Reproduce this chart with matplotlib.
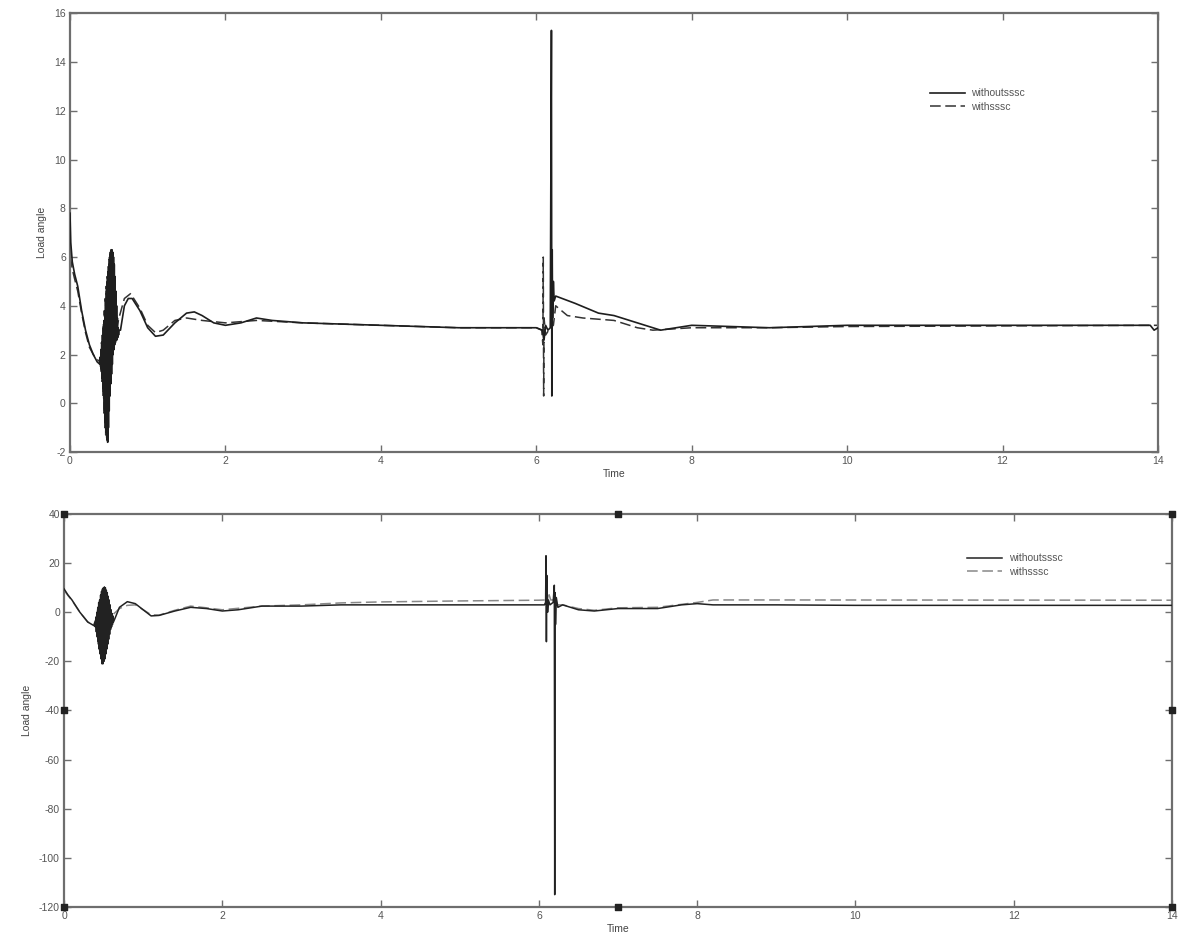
import matplotlib
matplotlib.use("Agg")
import matplotlib.pyplot as plt

# ---------------- data ----------------
# Top panel, "withoutsssc" (solid)
top_t_without = [0.0, 0.01, 0.03, 0.06, 0.10, 0.15, 0.20, 0.25, 0.30, 0.35, 0.385,
                 0.390, 0.395, 0.400, 0.405, 0.410, 0.415, 0.420, 0.425, 0.430, 0.435,
                 0.440, 0.445, 0.450, 0.455, 0.460, 0.465, 0.470, 0.475, 0.480, 0.485,
                 0.490, 0.495, 0.500, 0.505, 0.510, 0.515, 0.520, 0.525, 0.530, 0.535,
                 0.540, 0.545, 0.550, 0.555, 0.560, 0.565, 0.570, 0.575, 0.580, 0.585,
                 0.590, 0.595, 0.600, 0.605, 0.610, 0.615, 0.620, 0.625, 0.630,
                 0.65, 0.70, 0.75, 0.80, 0.90, 1.00, 1.10, 1.20, 1.35, 1.50, 1.60, 1.70,
                 1.85, 2.00, 2.20, 2.40, 2.60, 3.00, 4.00, 5.00, 6.00, 6.08, 6.10, 6.12,
                 6.15, 6.18, 6.195, 6.20, 6.205, 6.21, 6.22, 6.23, 6.25, 6.50, 6.80, 7.00,
                 7.30, 7.60, 8.00, 9.00, 10.00, 12.00, 13.90, 13.95, 14.0]
top_y_without = [7.8, 6.6, 5.8, 5.3, 4.8, 3.8, 3.0, 2.4, 2.0, 1.7, 1.6,
                 1.9, 1.5, 2.2, 1.3, 2.5, 1.0, 2.8, 0.6, 3.1, 0.2,
                 3.4, -0.3, 3.8, -0.8, 4.2, -1.2, 4.6, -1.5, 5.0, -1.6,
                 5.4, -1.0, 5.7, -0.3, 6.0, 0.3, 6.2, 0.8, 6.3, 1.2,
                 6.3, 1.6, 6.2, 2.0, 6.0, 2.2, 5.7, 2.4, 5.2, 2.5,
                 4.6, 2.6, 4.0, 2.6, 3.5, 2.7, 3.1, 2.8, 3.0,
                 3.0, 4.0, 4.3, 4.3, 3.8, 3.1, 2.75, 2.8, 3.3, 3.7, 3.75, 3.6,
                 3.3, 3.2, 3.3, 3.5, 3.4, 3.3, 3.2, 3.1, 3.1, 3.0, 2.6, 3.2,
                 3.0, 3.1, 15.3, 0.3, 6.3, 3.5, 5.0, 4.2, 4.4, 4.1, 3.7, 3.6,
                 3.3, 3.0, 3.2, 3.1, 3.2, 3.2, 3.2, 3.0, 3.1]

# Top panel, "withsssc" (dashed)
top_t_with = [0.0, 0.01, 0.03, 0.06, 0.10, 0.15, 0.20, 0.25, 0.30, 0.35, 0.385,
              0.394, 0.400, 0.406, 0.412, 0.418, 0.424, 0.430, 0.436, 0.442, 0.448,
              0.454, 0.460, 0.466, 0.472, 0.478, 0.484, 0.490, 0.496, 0.502, 0.508,
              0.514, 0.520, 0.526, 0.532, 0.538, 0.544, 0.550, 0.556, 0.562, 0.568,
              0.574, 0.580, 0.586, 0.592, 0.598, 0.604, 0.610,
              0.63, 0.70, 0.78, 0.90, 1.00, 1.10, 1.20, 1.35, 1.50, 1.70, 2.00, 2.40,
              3.00, 4.00, 5.00, 6.00, 6.07, 6.085, 6.09, 6.095, 6.10, 6.12, 6.18,
              6.22, 6.25, 6.40, 6.60, 7.00, 7.30, 7.50, 8.00, 9.00, 10.00, 14.0]
top_y_with = [6.0, 5.9, 5.5, 5.1, 4.6, 3.7, 2.9, 2.3, 2.0, 1.8, 1.7,
              1.9, 1.4, 2.5, 0.9, 2.9, 0.3, 3.3, -0.4, 3.8, -1.0,
              4.3, -1.3, 4.8, -1.4, 5.2, -0.9, 5.6, -0.2, 5.9, 0.5,
              6.1, 1.0, 6.2, 1.5, 6.1, 1.9, 5.8, 2.2, 5.3, 2.4,
              4.7, 2.5, 4.1, 2.6, 3.6, 2.8, 3.2,
              3.5, 4.3, 4.5, 3.9, 3.2, 2.9, 3.0, 3.4, 3.5, 3.4, 3.3, 3.4,
              3.3, 3.2, 3.1, 3.1, 3.0, 2.4, 6.0, 0.3, 3.5, 2.8, 3.1,
              3.2, 4.0, 3.6, 3.5, 3.4, 3.1, 3.0, 3.1, 3.1, 3.15, 3.2]

# Bottom panel, "withoutsssc" (solid)
bot_t_without = [0.0, 0.05, 0.10, 0.20, 0.30, 0.38,
                 0.390, 0.396, 0.402, 0.408, 0.414, 0.420, 0.426, 0.432, 0.438, 0.444,
                 0.450, 0.456, 0.462, 0.468, 0.474, 0.480, 0.486, 0.492, 0.498, 0.504,
                 0.510, 0.516, 0.522, 0.528, 0.534, 0.540, 0.546, 0.552, 0.558, 0.564,
                 0.570, 0.576, 0.582, 0.588, 0.594, 0.600, 0.606, 0.612, 0.618, 0.624,
                 0.65, 0.70, 0.80, 0.90, 1.00, 1.10, 1.20, 1.40, 1.60, 1.80, 2.00, 2.20,
                 2.50, 3.00, 3.50, 4.00, 5.00, 6.00, 6.07, 6.085, 6.09, 6.095, 6.10,
                 6.11, 6.12, 6.14, 6.18, 6.195, 6.20, 6.205, 6.21, 6.22, 6.24, 6.30,
                 6.50, 6.70, 7.00, 7.50, 7.80, 8.00, 8.20, 9.00, 10.00, 14.0]
bot_y_without = [9.5, 7.0, 5.0, 0.0, -4.0, -5.5,
                 -4.0, -6.0, -2.0, -8.0, 0.0, -10.0, 2.0, -12.0, 4.0, -15.0,
                 5.0, -17.0, 7.0, -19.0, 8.5, -21.0, 9.5, -21.0, 10.0, -20.0,
                 10.3, -19.0, 10.0, -17.0, 9.0, -15.0, 8.0, -13.0, 6.5, -11.0,
                 5.0, -9.0, 3.0, -7.0, 1.0, -6.0, -0.5, -5.0, -1.5, -4.0,
                 -2.0, 2.0, 4.3, 3.5, 1.0, -1.5, -1.3, 0.5, 2.0, 1.5, 0.5, 1.0,
                 2.5, 2.5, 3.0, 3.0, 3.0, 3.0, 3.0, 4.0, 23.0, -12.0, 15.0,
                 0.0, 5.0, 3.0, 4.0, 11.0, -115.0, 8.0, -5.0, 6.0, 2.0, 3.0,
                 1.0, 0.5, 1.5, 1.5, 3.0, 3.5, 3.0, 3.0, 2.8, 2.8]

# Bottom panel, "withsssc" (dashed)
bot_t_with = [0.0, 0.05, 0.10, 0.20, 0.30, 0.38,
              0.392, 0.400, 0.408, 0.416, 0.424, 0.432, 0.440, 0.448, 0.456, 0.464,
              0.472, 0.480, 0.488, 0.496, 0.504, 0.512, 0.520, 0.528, 0.536, 0.544,
              0.552, 0.560, 0.568, 0.576, 0.584, 0.592, 0.600, 0.608, 0.616,
              0.65, 0.70, 0.80, 0.90, 1.00, 1.10, 1.20, 1.40, 1.60, 1.80, 2.00,
              2.50, 3.00, 3.50, 4.00, 5.00, 6.00, 6.08, 6.10, 6.12, 6.15, 6.20,
              6.22, 6.30, 6.50, 6.70, 7.00, 7.50, 8.00, 8.20, 9.00, 14.0]
bot_y_with = [9.0, 6.8, 4.8, 0.0, -4.0, -5.0,
              -3.5, -7.0, -1.0, -10.0, 1.0, -13.0, 3.0, -16.0, 5.0, -18.0,
              7.0, -20.0, 8.0, -19.0, 8.5, -17.0, 8.0, -14.0, 7.0, -11.0,
              5.0, -9.0, 3.0, -7.0, 1.0, -5.0, -0.5, -4.0, -1.0,
              0.0, 1.5, 2.8, 3.0, 1.0, -1.0, -1.2, 0.8, 2.5, 1.8, 1.0,
              2.5, 3.0, 3.8, 4.2, 4.6, 4.9, 5.0, 3.0, 8.0, 5.0, 5.0,
              3.0, 3.0, 1.5, 0.8, 1.8, 2.0, 4.0, 5.0, 5.0, 4.9]

# corner markers on the lower axes (MATLAB artefacts)
bot_marker_t = [0, 0, 0, 7, 7, 14, 14, 14]
bot_marker_y = [40, -40, -120, 40, -120, 40, -40, -120]

top_yticks = [-2, 0, 2, 4, 6, 8, 10, 12, 14, 16]
bot_yticks = [-120, -100, -80, -60, -40, -20, 0, 20, 40]
xticks = [0, 2, 4, 6, 8, 10, 12, 14]
labels = ["withoutsssc", "withsssc"]

# ---------------- figure ----------------
plt.rcParams['font.family'] = ['Liberation Sans', 'DejaVu Sans']
plt.rcParams['axes.unicode_minus'] = False
fig = plt.figure(figsize=(11.86, 9.33), dpi=100)
ax1 = fig.add_axes([0.0590, 0.5155, 0.9174, 0.4702])
ax2 = fig.add_axes([0.0540, 0.0279, 0.9342, 0.4212])

spine_col = '#6e6e6e'
text_col = '#555555'
dash = (0, (7, 3))

def style(ax, yticks, ylim):
    ax.set_xlim(0, 14)
    ax.set_ylim(*ylim)
    ax.set_xticks(xticks)
    ax.set_yticks(yticks)
    ax.tick_params(direction='in', top=True, right=True, length=5, width=1,
                   color=spine_col, labelcolor=text_col, labelsize=7.5, pad=3)
    for s in ax.spines.values():
        s.set_color(spine_col)
        s.set_linewidth(1.6)
    ax.set_xlabel('Time', fontsize=7.5, color='#444444', labelpad=2)
    ax.set_ylabel('Load angle', fontsize=7.5, color='#444444', labelpad=5)

ax1.plot(top_t_with, top_y_with, color='#333333', lw=1.1, linestyle=dash,
         label=labels[1], zorder=2)
ax1.plot(top_t_without, top_y_without, color='#1e1e1e', lw=1.2,
         label=labels[0], zorder=3)
style(ax1, top_yticks, (-2, 16))
h, l = ax1.get_legend_handles_labels()
ax1.legend(h[::-1], l[::-1], loc='upper left', bbox_to_anchor=(0.79, 0.829),
           frameon=False, borderaxespad=0, borderpad=0,
           fontsize=7.5, handlelength=3.4, handletextpad=0.6, labelspacing=0.35,
           labelcolor='#555555')

ax2.plot(bot_t_with, bot_y_with, color='#888888', lw=1.1, linestyle=dash,
         label=labels[1], zorder=2)
ax2.plot(bot_t_without, bot_y_without, color='#222222', lw=1.1,
         label=labels[0], zorder=3)
ax2.scatter(bot_marker_t, bot_marker_y, marker='s', s=22, color='#222222',
            clip_on=False, zorder=5)
style(ax2, bot_yticks, (-120, 40))
h, l = ax2.get_legend_handles_labels()
ax2.legend(h[::-1], l[::-1], loc='upper left', bbox_to_anchor=(0.815, 0.90),
           frameon=False, borderaxespad=0, borderpad=0,
           fontsize=7.5, handlelength=3.4, handletextpad=0.6, labelspacing=0.35,
           labelcolor='#555555')

fig.savefig('out.png', dpi=100)
